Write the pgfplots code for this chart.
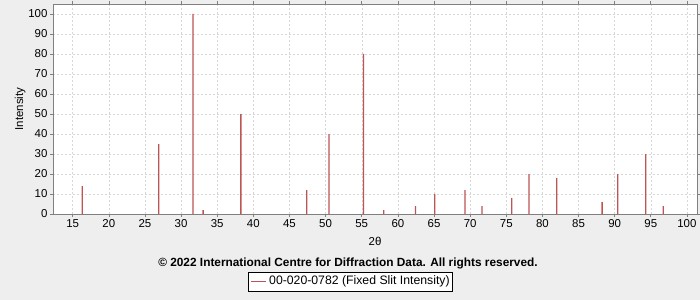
\documentclass[border=0pt]{standalone}
\usepackage{pgfplots}
\pgfplotsset{compat=1.18}
\usepackage{fontspec}
\setmainfont{Liberation Sans}
\definecolor{bgc}{RGB}{238,238,238}
\definecolor{barc}{RGB}{190,85,85}
\definecolor{framec}{RGB}{128,128,128}
\definecolor{gridc}{RGB}{215,215,215}
\begin{document}
\begin{tikzpicture}[x=1bp,y=1bp]
\fill[bgc] (-53,-86) rectangle (647,214);
\useasboundingbox (-53,-86) rectangle (647,214);
\begin{axis}[
  at={(0,0)}, anchor=south west,
  scale only axis, width=644bp, height=210bp,
  xmin=12.27, xmax=101.4, ymin=0, ymax=105,
  xtick={15,20,...,100}, ytick={0,10,...,100},
  axis background/.style={fill=white},
  axis line style={framec},
  tick style={framec, line width=0.6pt},
  tick align=outside, major tick length=3bp,
  grid=major,
  major grid style={gridc, dash pattern=on 2bp off 2bp, line width=0.5pt},
  tick label style={font=\fontsize{11.5}{12}\selectfont, black},
  /pgf/number format/assume math mode=true,
  xticklabel style={yshift=1bp},
  yticklabel style={xshift=1bp},
  xlabel={2θ}, ylabel={Intensity},
  label style={font=\fontsize{11.5}{12}\selectfont},
  xlabel style={yshift=-3bp},
  ylabel style={yshift=-4bp},
]
\addplot[ybar, bar width=1.3bp, fill=barc, draw=none] coordinates {
(16.33,14) (26.9,35) (31.65,100) (33.05,2) (38.27,50)
(47.4,12) (50.46,40) (55.25,80) (58.05,2) (62.45,4)
(65.1,10) (69.3,12) (71.65,4) (75.75,8) (78.16,20)
(82.0,18) (88.27,6) (90.42,20) (94.3,30) (96.72,4)
};
\end{axis}
\node[font=\bfseries\fontsize{11.9}{13}\selectfont] at (295,-49) {© 2022 International Centre for Diffraction Data. All rights reserved.};
\node[draw=black, fill=white, line width=0.6pt, minimum width=204bp, minimum height=19bp, inner sep=0pt] at (297,-67.5) {};
\fill[barc] (198,-68.3) rectangle (213,-66.7);
\node[anchor=west, font=\fontsize{12.3}{13}\selectfont, inner sep=0pt] at (216,-67.5) {00-020-0782 (Fixed Slit Intensity)};
\end{tikzpicture}
\end{document}
